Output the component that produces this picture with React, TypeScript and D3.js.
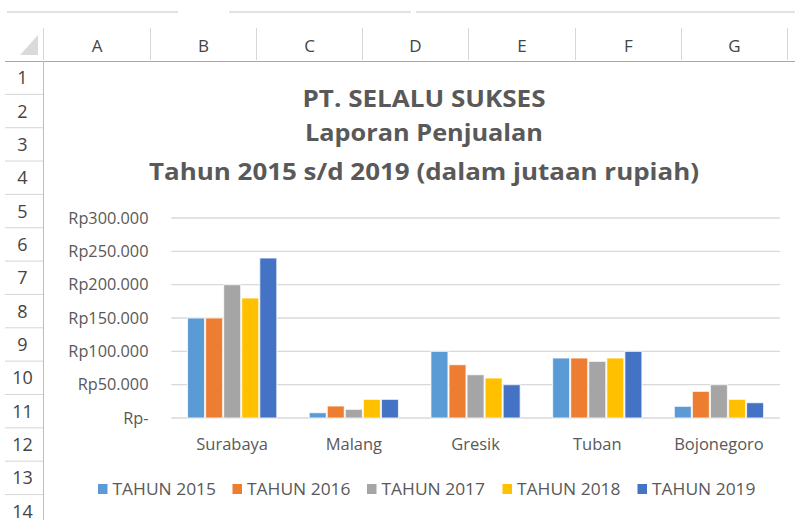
import React from "react";
import * as d3 from "d3";

const categories = ["Surabaya", "Malang", "Gresik", "Tuban", "Bojonegoro"];
const seriesNames = ["TAHUN 2015", "TAHUN 2016", "TAHUN 2017", "TAHUN 2018", "TAHUN 2019"];
const tahun2015 = [150000, 8000, 100000, 90000, 17500];
const tahun2016 = [150000, 18000, 80000, 90000, 40000];
const tahun2017 = [200000, 13000, 65000, 85000, 50000];
const tahun2018 = [180000, 28000, 60000, 90000, 28000];
const tahun2019 = [240000, 28000, 50000, 100000, 23000];
const seriesValues = [tahun2015, tahun2016, tahun2017, tahun2018, tahun2019];
const yTicks = [0, 50000, 100000, 150000, 200000, 250000, 300000];
const colors = ["#5B9BD5", "#ED7D31", "#A5A5A5", "#FFC000", "#4472C4"];
const columnLetters = ["A", "B", "C", "D", "E", "F", "G"];
const rowNumbers = [1, 2, 3, 4, 5, 6, 7, 8, 9, 10, 11, 12, 13, 14];
const titleLines = ["PT. SELALU SUKSES", "Laporan Penjualan", "Tahun 2015 s/d 2019 (dalam jutaan rupiah)"];

const W = 795;
const H = 520;
const FONT = "'Open Sans', 'Noto Sans', sans-serif";
const TXT = "#595959";

function fmt(v: number) {
  if (v === 0) return "Rp-";
  return "Rp" + d3.format(",")(v).replace(/,/g, ".");
}

export default function App() {
  const x0 = d3
    .scaleBand<string>()
    .domain(categories)
    .range([171.3, 779.8])
    .paddingInner(0.258)
    .paddingOuter(0.129);
  const x1 = d3
    .scaleBand<string>()
    .domain(seriesNames)
    .range([0, x0.bandwidth()])
    .padding(0);
  const y = d3.scaleLinear().domain([0, 300000]).range([418, 218]);

  const colEdges = [43.5, 150.5, 256.5, 362.5, 468.5, 575.5, 681.5, 787.5];
  const rowTop = 61;
  const rowH = 33.35;

  const legendX = [98, 232.5, 367, 502.5, 637.5];

  return (
    <svg
      width={W}
      height={H}
      style={{ position: "absolute", left: 0, top: 0, background: "#fff" }}
      fontFamily={FONT}
    >
      <rect x={0} y={0} width={W} height={H} fill="#fff" />
      {/* top toolbar lines */}
      <line x1={7} x2={178} y1={12} y2={12} stroke="#c6c6c6" strokeWidth={1.2} />
      <line x1={229} x2={411} y1={12} y2={12} stroke="#c6c6c6" strokeWidth={1.2} />
      <line x1={416} x2={795} y1={12} y2={12} stroke="#c6c6c6" strokeWidth={1.2} />

      {/* column header */}
      <path d="M20,55 L38,55 L38,35 Z" fill="#dadada" />
      {colEdges.map((cx, i) => (
        <line key={"ce" + i} x1={cx} x2={cx} y1={28} y2={60} stroke="#d6d6d6" />
      ))}
      {columnLetters.map((c, i) => (
        <text
          key={c}
          x={(colEdges[i] + colEdges[i + 1]) / 2}
          y={52}
          textAnchor="middle"
          fontSize={17}
          fill="#444"
        >
          {c}
        </text>
      ))}
      <line x1={5} x2={W} y1={61.5} y2={61.5} stroke="#a8a8a8" strokeWidth={1.2} />

      {/* row header */}
      <line x1={43.5} x2={43.5} y1={61} y2={H} stroke="#bdbdbd" />
      {rowNumbers.map((r, i) => (
        <g key={"r" + r}>
          <text
            x={22.5}
            y={rowTop + rowH * i + rowH / 2 + 6.5}
            textAnchor="middle"
            fontSize={18}
            fill="#444"
          >
            {r}
          </text>
          <line
            x1={5}
            x2={43}
            y1={rowTop + rowH * (i + 1)}
            y2={rowTop + rowH * (i + 1)}
            stroke="#d6d6d6"
          />
        </g>
      ))}

      {/* title */}
      {titleLines.map((t, i) => (
        <text
          key={"t" + i}
          x={424}
          y={[107, 141, 180][i]}
          textAnchor="middle"
          fontSize={23}
          fontWeight="bold"
          fill={TXT}
          textLength={[243, 238, 550][i]}
          lengthAdjust="spacingAndGlyphs"
        >
          {t}
        </text>
      ))}

      {/* gridlines + y labels */}
      {yTicks.map((v) => (
        <g key={"y" + v}>
          <line x1={171.3} x2={779.8} y1={y(v)} y2={y(v)} stroke="#d9d9d9" strokeWidth={1.3} />
          <text x={148.5} y={y(v) + 5.5} textAnchor="end" fontSize={16.3} fill={TXT}>
            {fmt(v)}
          </text>
        </g>
      ))}

      {/* bars */}
      {categories.map((cat, ci) => (
        <g key={cat} transform={`translate(${x0(cat)},0)`}>
          {seriesNames.map((s, si) => {
            const v = seriesValues[si][ci];
            return (
              <rect
                key={s}
                x={x1(s)! + 0.5}
                y={y(v)}
                width={x1.bandwidth() - 1}
                height={y(0) - y(v)}
                fill={colors[si]}
                stroke="#fff"
                strokeWidth={1.2}
                strokeOpacity={0.7}
              />
            );
          })}
        </g>
      ))}

      {/* category labels */}
      {categories.map((cat) => (
        <text
          key={"c" + cat}
          x={x0(cat)! + x0.bandwidth() / 2}
          y={449.5}
          textAnchor="middle"
          fontSize={16.5}
          fill={TXT}
        >
          {cat}
        </text>
      ))}

      {/* legend */}
      {seriesNames.map((s, i) => (
        <g key={"l" + s}>
          <rect x={legendX[i]} y={484} width={9.5} height={10} fill={colors[i]} />
          <text
            x={legendX[i] + 14.5}
            y={494.5}
            fontSize={17}
            fill={TXT}
            textLength={103.5}
            lengthAdjust="spacingAndGlyphs"
          >
            {s}
          </text>
        </g>
      ))}
    </svg>
  );
}
